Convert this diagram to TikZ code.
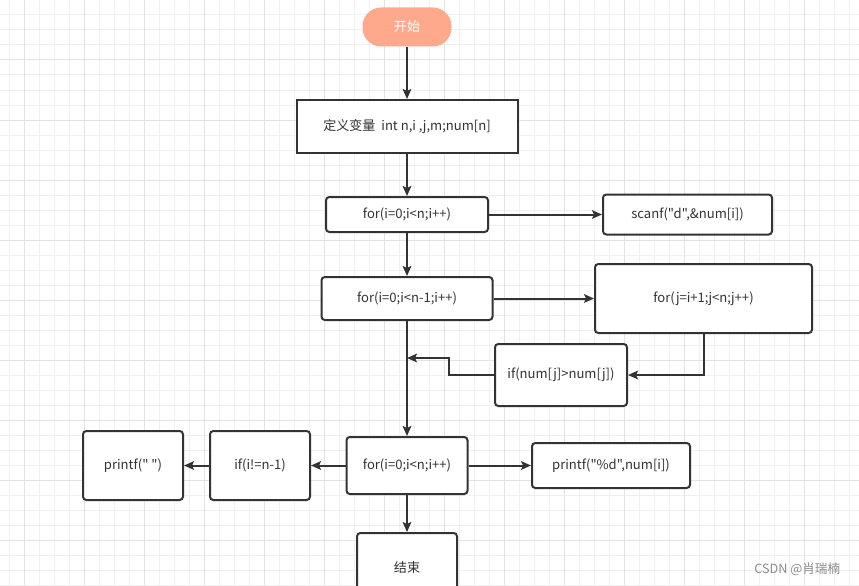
\documentclass[tikz,border=0pt]{standalone}
\usepackage{fontspec}
\setmainfont{Noto Sans CJK SC}[Ligatures=TeXOff]
\usetikzlibrary{arrows.meta}
\definecolor{startfill}{RGB}{255,169,140}
\definecolor{edge}{RGB}{51,51,51}

\begin{document}
\begin{tikzpicture}[x=0.75pt, y=-0.75pt, font=\fontsize{9.8}{11}\selectfont,
  box/.style={draw=edge, line width=1.5pt, fill=white, rounded corners=2.5pt,
              text=edge, align=center, inner sep=0pt},
  sz/.style 2 args={minimum width=#1*0.75pt, minimum height=#2*0.75pt},
  term/.style={fill=startfill, text=white, rounded corners=14pt, inner sep=0pt},
  arr/.style={-{Stealth[length=7.5pt, width=6.5pt, inset=1.5pt]}, line width=1.5pt, edge},
  minor/.style={black!6, line width=0.75pt},
  major/.style={black!11, line width=0.75pt}]

% 背景网格
\fill[white] (0,0) rectangle (859,585);
\useasboundingbox (0,0) rectangle (859,585);
\foreach \x in {9,24,...,859}{\draw[minor] (\x,0) -- (\x,585);}
\foreach \y in {0,15,...,585}{\draw[minor] (0,\y) -- (859,\y);}
\foreach \x in {24,84,...,859}{\draw[major] (\x,0) -- (\x,585);}
\foreach \y in {0,60,...,585}{\draw[major] (0,\y) -- (859,\y);}

% 主干
\node[term, sz={89}{39}] (start) at (407,27) {开始};
\node[box, sz={221}{53}, rounded corners=0pt] (def) at (407,126.5) {定义变量\ \ int n,i ,j,m;num[n]};
\node[box, sz={162}{35}] (for1) at (407,214.5) {for(i=0;i<n;i++)};
\node[box, sz={171}{43}] (for2) at (407,298.5) {for(i=0;i<n-1;i++)};
\node[box, sz={121}{57}] (for3) at (407,465.5) {for(i=0;i<n;i++)};
\node[box, sz={100}{69}] (end)  at (407,567.5) {结束};

% 右侧
\node[box, sz={169}{40}] (scan) at (687.5,214.5) {scanf("d",\&num[i])};
\node[box, sz={217}{69}] (forj) at (703.5,298.5) {for(j=i+1;j<n;j++)};
\node[box, sz={132}{62}] (cmp)  at (561,375) {if(num[j]>num[j])};
\node[box, sz={158}{45}] (prt)  at (611,465.5) {printf("\%d",num[i])};

% 左侧
\node[box, sz={100}{69}] (ifi)   at (260,465.5) {if(i!=n-1)};
\node[box, sz={100}{69}] (space) at (133,465.5) {printf("\ ")};

\node[text=black!45, anchor=east, font=\fontsize{9.5}{11}\selectfont] (mark) at (845,569) {CSDN @肖瑞楠};

% 连线
\coordinate (join) at (407,358);
\draw[arr] (start) -- (def);
\draw[arr] (def) -- (for1);
\draw[arr] (for1) -- (scan);
\draw[arr] (for1) -- (for2);
\draw[arr] (for2) -- (forj);
\draw[arr] (forj.south) |- (cmp.east);
\draw[arr] (cmp.west) -- ++(-45,0) |- (join);
\draw[arr] (for2) -- (for3);
\draw[arr] (for3) -- (prt);
\draw[arr] (for3) -- (ifi);
\draw[arr] (ifi) -- (space);
\draw[arr] (for3) -- (end);
\end{tikzpicture}
\end{document}
